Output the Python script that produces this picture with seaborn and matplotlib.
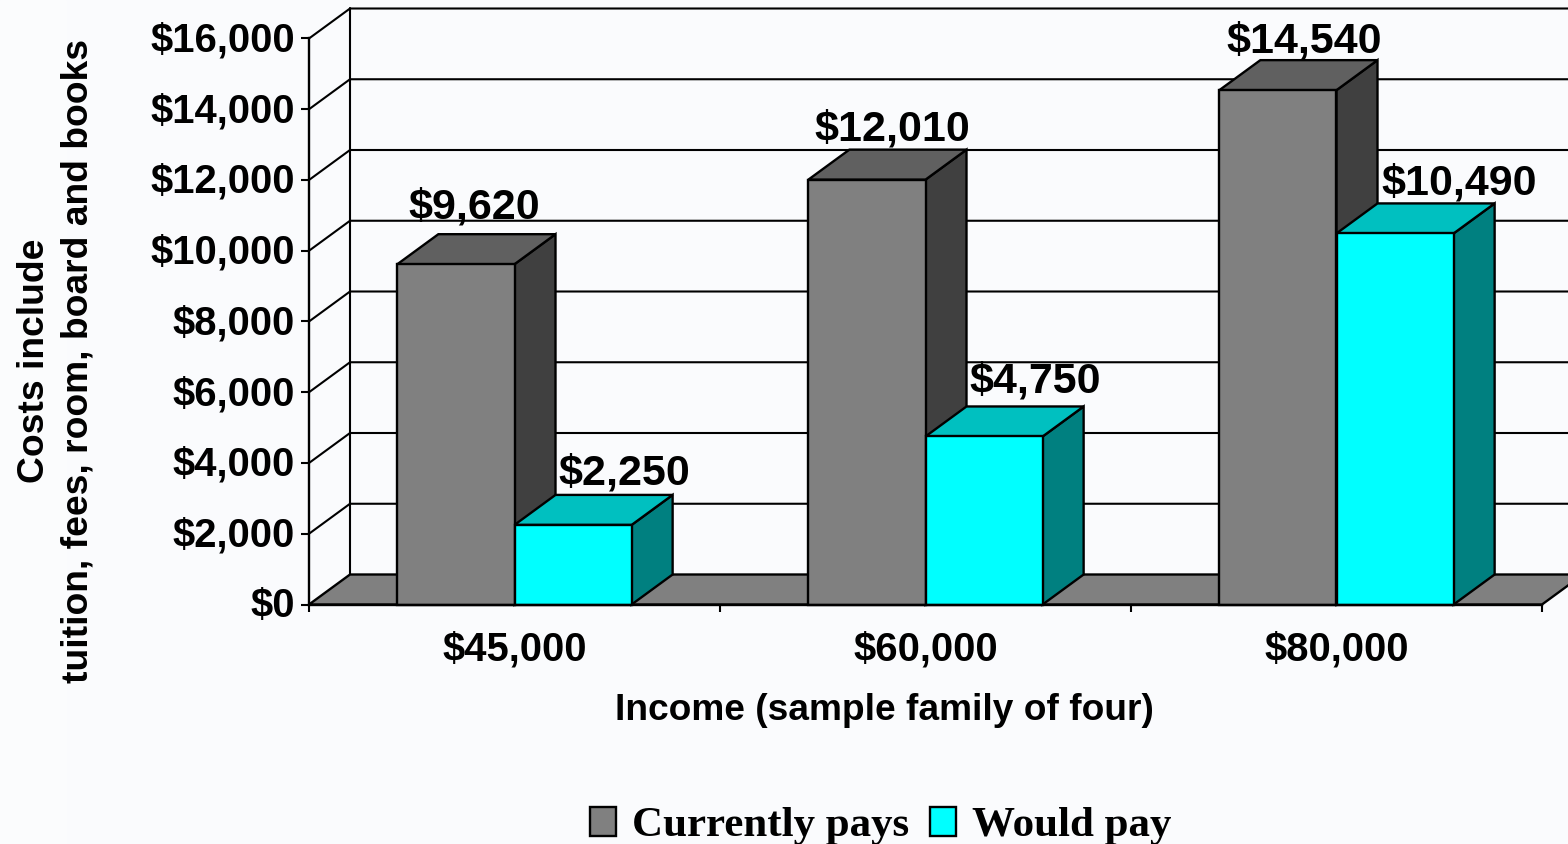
import matplotlib
matplotlib.use('Agg')
import matplotlib.pyplot as plt
from matplotlib.patches import Polygon, Rectangle
from matplotlib.transforms import ScaledTranslation
import pandas as pd
import seaborn as sns

# Chart data
incomes = ['$45,000', '$60,000', '$80,000']
currently_pays = [9620, 12010, 14540]
would_pay = [2250, 4750, 10490]
y_ticks = [0, 2000, 4000, 6000, 8000, 10000, 12000, 14000, 16000]

# Label nudges in pixels, the original places these by hand
currently_nudge = [(11, 16), (6, 9), (7, 8)]
would_nudge = [(44, 10), (44, 14), (45, 9)]

df = pd.DataFrame({'income': incomes, 'Currently pays': currently_pays, 'Would pay': would_pay})
df = df.melt(id_vars='income', var_name='group', value_name='cost')

BG = '#FAFBFD'
FONT = 'Liberation Sans'
sns.set_theme(style='white')
plt.rcParams['font.family'] = [FONT, 'DejaVu Sans']
plt.rcParams['text.color'] = 'black'

W, H = 1568, 844
EDGE = 1.7
fig = plt.figure(figsize=(W / 100, H / 100), dpi=100, facecolor=BG)
fig.patches.append(Rectangle((0, 0), 66 / W, 1, transform=fig.transFigure, color='#FBFCFD', zorder=-5))

# Front plane of the 3D chart, the depth is added on top of it
ax = fig.add_axes([309 / W, 1 - 604.5 / H, (1542 - 309) / W, (604.5 - 38.5) / H])
ax.patch.set_alpha(0)

sns.barplot(data=df, x='income', y='cost', hue='group', palette=['#808080', '#00FFFF'],
            width=0.57, gap=0, saturation=1, edgecolor='black', linewidth=EDGE, ax=ax)
ax.set_xlim(-0.5, 2.5)
ax.set_ylim(0, 16000)

dx = 41 / (1233 / 3)
dy = 30 / (566 / 16000)
x0, x1 = ax.get_xlim()

# Floor and back wall
ax.add_patch(Polygon([(x0, 0), (x1, 0), (x1 + dx, dy), (x0 + dx, dy)], closed=True, facecolor='#808080',
                     edgecolor='black', linewidth=EDGE, clip_on=False, zorder=1))
for t in y_ticks[1:]:
    ax.plot([x0, x0 + dx, x1 + dx], [t, t + dy, t + dy], color='black', linewidth=1.5, clip_on=False, zorder=0.5)
ax.plot([x0 + dx, x0 + dx], [dy, 16000 + dy], color='black', linewidth=1.5, clip_on=False, zorder=0.5)

# Side and top faces of the bars
shades = [('#404040', '#606060'), ('#008080', '#00C0C0')]
for i, container in enumerate(ax.containers):
    side_col, top_col = shades[i]
    values = [currently_pays, would_pay][i]
    nudges = [currently_nudge, would_nudge][i]
    z = 2 + i
    for bar, value, (nx, ny) in zip(container, values, nudges):
        left, right = bar.get_x(), bar.get_x() + bar.get_width()
        bar.set_zorder(z + 0.2)
        bar.set_clip_on(False)
        ax.add_patch(Polygon([(right, 0), (right + dx, dy), (right + dx, value + dy), (right, value)], closed=True,
                             facecolor=side_col, edgecolor='black', linewidth=EDGE, clip_on=False, zorder=z))
        ax.add_patch(Polygon([(left, value), (left + dx, value + dy), (right + dx, value + dy), (right, value)],
                             closed=True, facecolor=top_col, edgecolor='black', linewidth=EDGE, clip_on=False, zorder=z))
        ax.annotate(f'${value:,}', xy=(left, value + dy), xytext=(nx * 0.72, ny * 0.72), textcoords='offset points',
                    ha='left', va='baseline', fontsize=31, fontweight='bold', color='black', zorder=6,
                    annotation_clip=False)

# Axes
for side in ['top', 'right']:
    ax.spines[side].set_visible(False)
for side in ['left', 'bottom']:
    ax.spines[side].set_linewidth(EDGE)
    ax.spines[side].set_color('black')
    ax.spines[side].set_zorder(5)
ax.set_yticks(y_ticks)
ax.set_yticklabels([f'${t:,}' for t in y_ticks], fontsize=28.8, fontweight='bold', color='black')
ax.tick_params(axis='y', length=6, width=1.5, color='black', pad=4, left=True)
for lbl in ax.get_yticklabels():
    lbl.set_transform(lbl.get_transform() + ScaledTranslation(0, 2 / 100, fig.dpi_scale_trans))
ax.set_xticks([0, 1, 2])
ax.set_xticklabels(incomes, fontsize=28.8, fontweight='bold', color='black')
ax.tick_params(axis='x', which='major', length=0, pad=19)
ax.set_xticks([-0.5, 0.5, 1.5, 2.5], minor=True)
ax.tick_params(axis='x', which='minor', length=5, width=1.5, color='black', bottom=True)

ax.set_xlabel('Income (sample family of four)', fontsize=26.75, fontweight='bold', color='black')
ax.xaxis.set_label_coords((884 - 309) / 1233, -(710 - 604.5) / 566, transform=ax.transAxes)
ax.xaxis.label.set_va('center')
ax.set_ylabel('Costs include\ntuition, fees, room, board and books', fontsize=26.8, fontweight='bold', color='black',
              linespacing=1.3, ha='center', va='center')
ax.yaxis.set_label_coords((56.5 - 309) / 1233, (604.5 - 361) / 566, transform=ax.transAxes)

# Legend
sns.move_legend(ax, loc='center', bbox_to_anchor=(881 / W, 1 - 826 / H), bbox_transform=fig.transFigure, ncol=2,
                title=None, frameon=False, handlelength=0.6, handleheight=0.66, handletextpad=0.38,
                columnspacing=0.48, borderpad=0, labelcolor='black',
                prop={'family': 'Liberation Serif', 'weight': 'bold', 'size': 31})

fig.savefig('out.png', dpi=100, facecolor=fig.get_facecolor())
